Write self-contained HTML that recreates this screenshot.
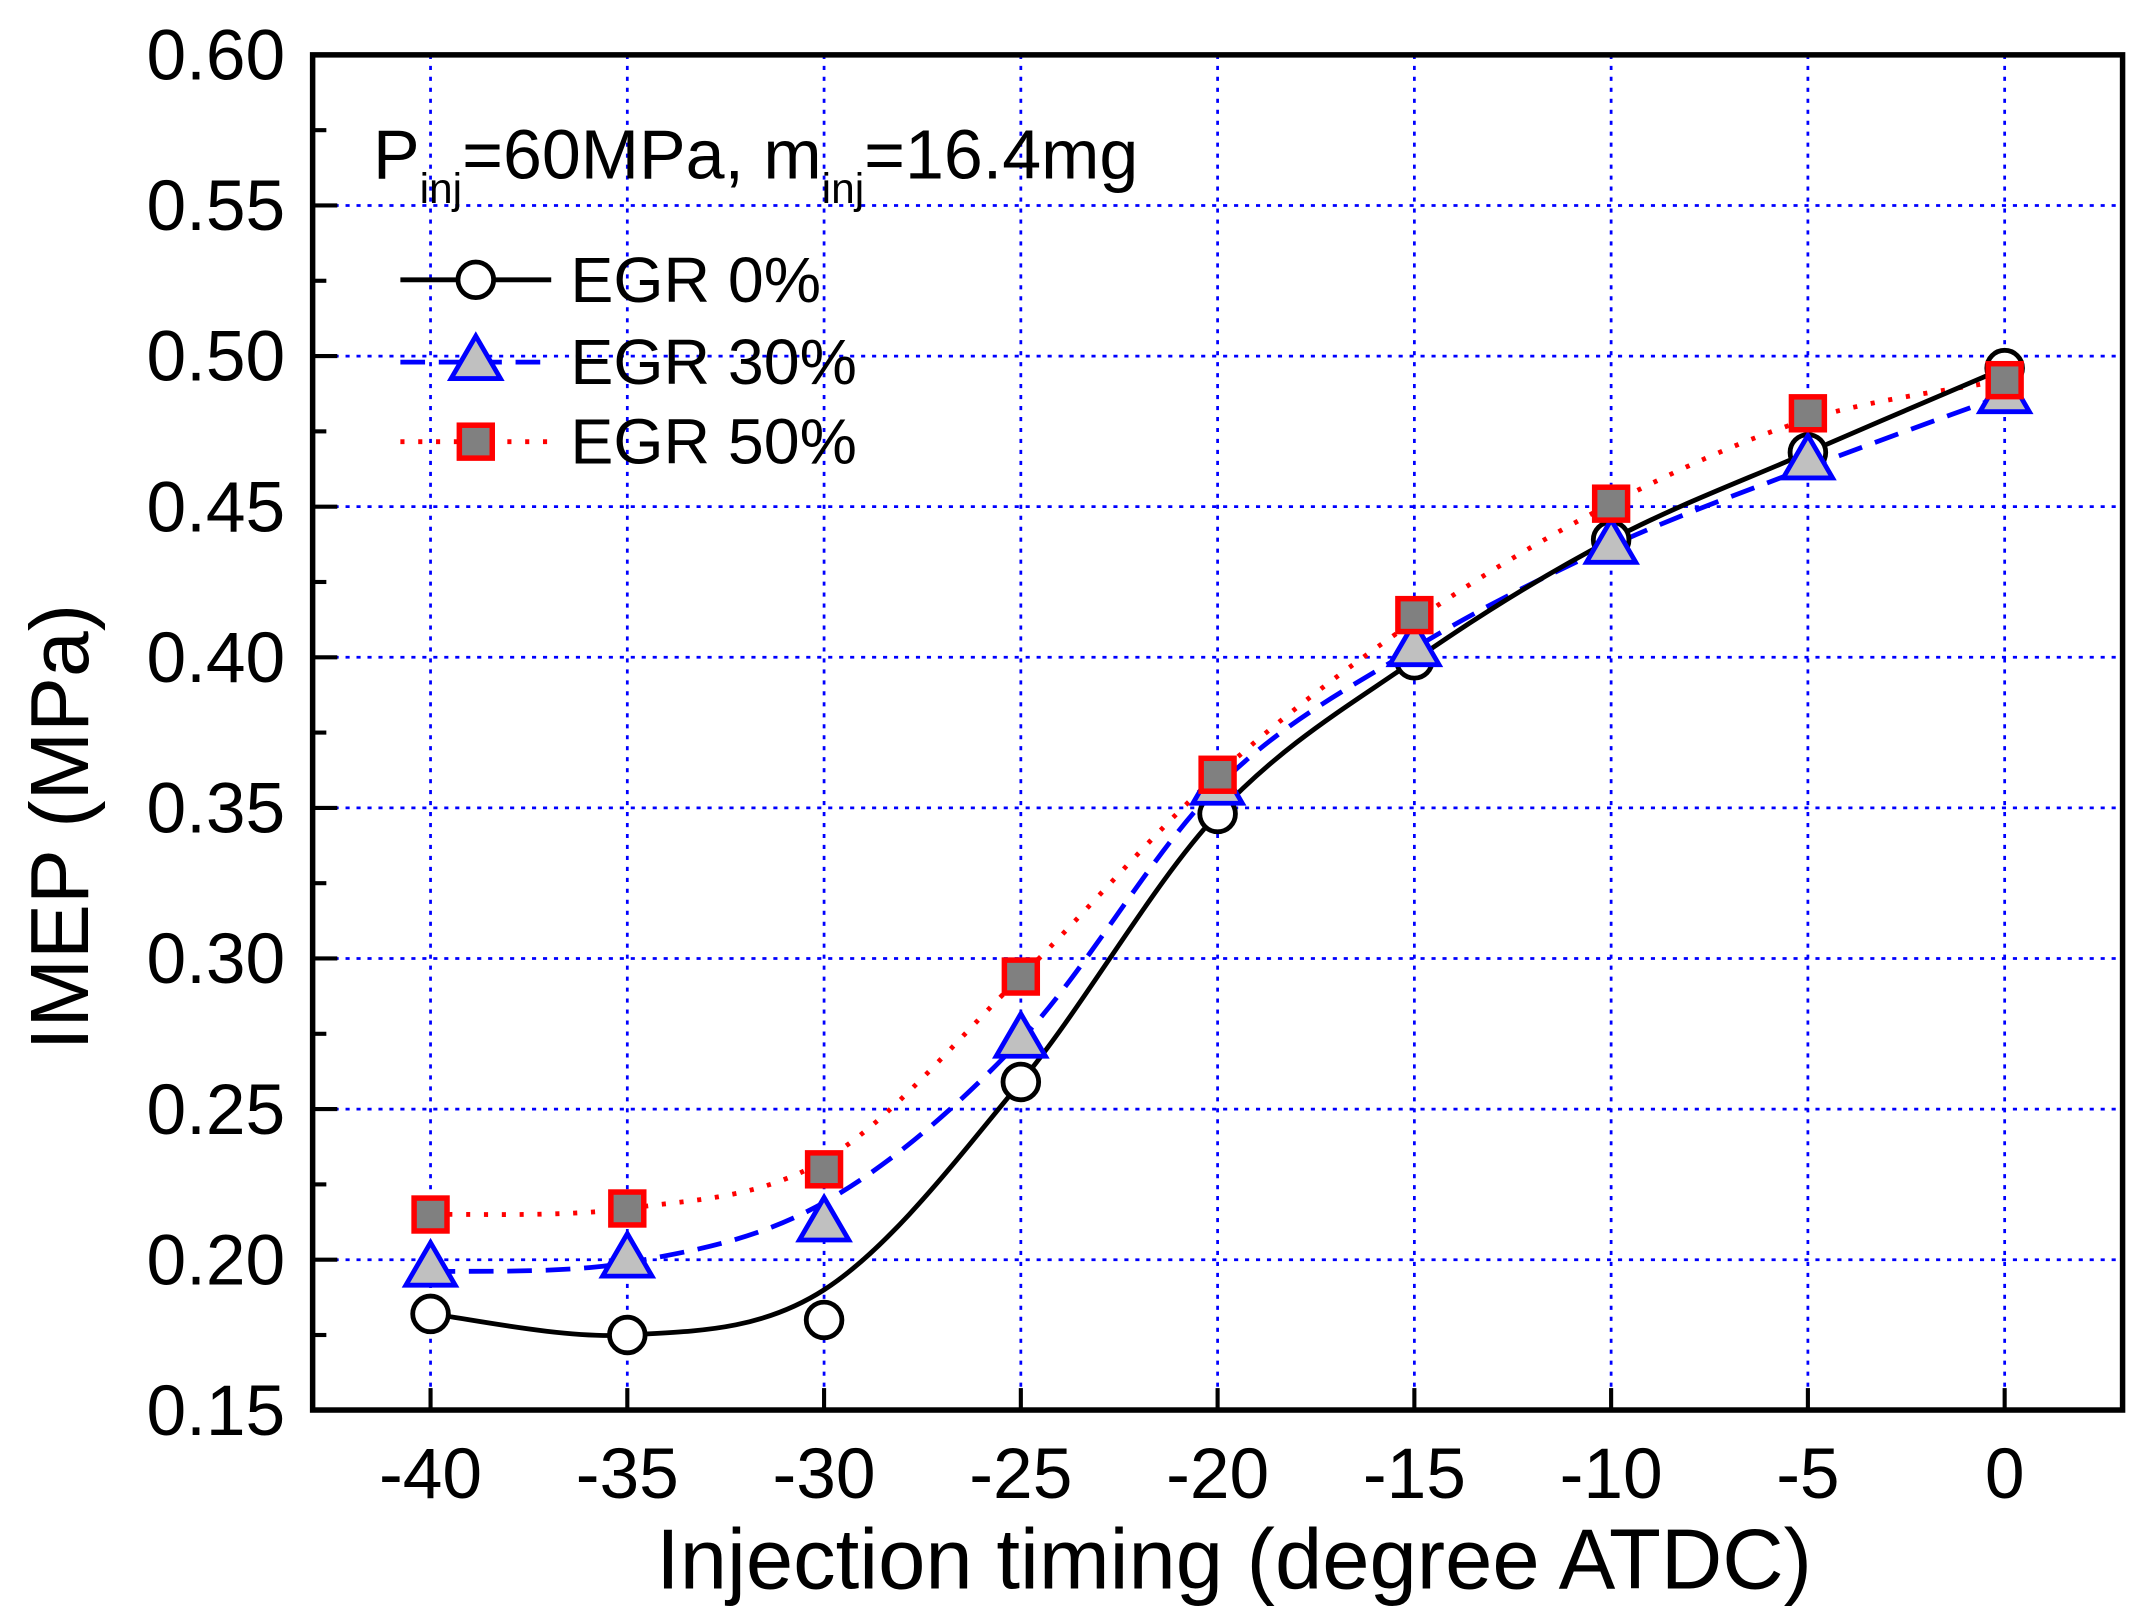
<!DOCTYPE html>
<html><head><meta charset="utf-8"><style>html,body{margin:0;padding:0;background:#fff}svg{display:block}</style></head>
<body>
<svg id="s" width="2150" height="1624" viewBox="0 0 1568 1184" preserveAspectRatio="none" xmlns="http://www.w3.org/2000/svg" font-family="Liberation Sans, Arial, sans-serif">
<rect width="1568" height="1184" fill="#fff"/>
<g id="grid"></g>
<g id="curves"></g>
<g id="marks"></g>
<rect x="228" y="40" width="1320" height="988" fill="none" stroke="#000" stroke-width="4"/>
<g id="ticks" stroke="#000" stroke-width="3"></g>
<g id="labels" font-size="52" fill="#000"></g>
<text x="1" y="0" font-size="60" transform="translate(64,604) rotate(-90)" text-anchor="middle">IMEP (MPa)</text>
<text x="900" y="1158" font-size="62" text-anchor="middle">Injection timing (degree ATDC)</text>
<text x="272" y="130" font-size="51">P<tspan font-size="31" dy="18">inj</tspan><tspan dy="-18">=60MPa, m</tspan><tspan font-size="31" dy="18">inj</tspan><tspan dy="-18">=16.4mg</tspan></text>
<g font-size="47">
<line x1="292" y1="204" x2="402" y2="204" stroke="#000" stroke-width="3.5"/>
<circle cx="347" cy="204" r="13" fill="#fff" stroke="#000" stroke-width="3.5"/>
<text x="416" y="220">EGR 0%</text>
<line x1="292" y1="264" x2="402" y2="264" stroke="#0000ff" stroke-width="3.5" stroke-dasharray="18,10"/>
<polygon points="347,245 365,276 329,276" fill="#c0c0c0" stroke="#0000ff" stroke-width="3.5"/>
<text x="416" y="280">EGR 30%</text>
<line x1="292" y1="322" x2="402" y2="322" stroke="#ff0000" stroke-width="3.5" stroke-dasharray="3,10"/>
<rect x="335" y="310" width="24" height="24" fill="#808080" stroke="#ff0000" stroke-width="4"/>
<text x="416" y="338">EGR 50%</text>
</g>
</svg>
<script>
const NS="http://www.w3.org/2000/svg";
function el(p,t,a){const e=document.createElementNS(NS,t);for(const k in a)e.setAttribute(k,a[k]);document.getElementById(p).appendChild(e);return e;}
const X=v=>1462+v*143.5/5, Y=v=>40+(0.6-v)*2196;
const xs=[-40,-35,-30,-25,-20,-15,-10,-5,0];
for(const x of xs){el("grid","line",{x1:X(x),x2:X(x),y1:40,y2:1028,stroke:"#0000ff","stroke-width":2,"stroke-dasharray":"3,5"});
 el("ticks","line",{x1:X(x),x2:X(x),y1:1028,y2:1012});
 const t=el("labels","text",{x:X(x),y:1092,"text-anchor":"middle"});t.textContent=x;}
for(let i=0;i<=10;i++){const v=0.15+i*0.05;
 if(i>0&&i<10)el("grid","line",{x1:228,x2:1548,y1:Y(v),y2:Y(v),stroke:"#0000ff","stroke-width":2,"stroke-dasharray":"3,5"});
 el("ticks","line",{x1:228,x2:246,y1:Y(v),y2:Y(v)});
 const t=el("labels","text",{x:208,y:Y(v)+18,"text-anchor":"end"});t.textContent=v.toFixed(2);}
for(let i=0;i<9;i++){const v=0.175+i*0.05;el("ticks","line",{x1:228,x2:238,y1:Y(v),y2:Y(v)});}
function path(pts){let d=`M${pts[0][0]},${pts[0][1]}`;for(let i=0;i<pts.length-1;i++){const p0=pts[Math.max(0,i-1)],p1=pts[i],p2=pts[i+1],p3=pts[Math.min(pts.length-1,i+2)];
 d+=` C${p1[0]+(p2[0]-p0[0])/6},${p1[1]+(p2[1]-p0[1])/6} ${p2[0]-(p3[0]-p1[0])/6},${p2[1]-(p3[1]-p1[1])/6} ${p2[0]},${p2[1]}`;}return d;}
const c0=[0.182,0.175,0.190,0.259,0.348,0.399,0.439,0.468,0.496];
const m0=[0.182,0.175,0.180,0.259,0.348,0.399,0.439,0.468,0.496];
const c3=[0.196,0.199,0.219,0.273,0.357,0.403,0.437,0.463,0.487];
const m3=[0.197,0.200,0.212,0.273,0.357,0.403,0.437,0.465,0.487];
const c5=[0.215,0.217,0.233,0.294,0.361,0.412,0.451,0.479,0.492];
const m5=[0.215,0.217,0.230,0.294,0.361,0.414,0.451,0.481,0.492];
const P=c=>c.map((v,i)=>[X(xs[i]),Y(v)]);
el("curves","path",{d:path(P(c5)),fill:"none",stroke:"#ff0000","stroke-width":3.5,"stroke-dasharray":"3,10"});
el("curves","path",{d:path(P(c3)),fill:"none",stroke:"#0000ff","stroke-width":3.5,"stroke-dasharray":"18,10"});
el("curves","path",{d:path(P(c0)),fill:"none",stroke:"#000","stroke-width":3.5});
xs.forEach((x,i)=>{const cx=X(x);
 el("marks","circle",{cx,cy:Y(m0[i]),r:13,fill:"#fff",stroke:"#000","stroke-width":3.5});
 const y=Y(m3[i]);el("marks","polygon",{points:`${cx},${y-19} ${cx+18},${y+12} ${cx-18},${y+12}`,fill:"#c0c0c0",stroke:"#0000ff","stroke-width":3.5});
 const y5=Y(m5[i]);el("marks","rect",{x:cx-12,y:y5-12,width:24,height:24,fill:"#808080",stroke:"#ff0000","stroke-width":4});});
</script>
</body></html>
